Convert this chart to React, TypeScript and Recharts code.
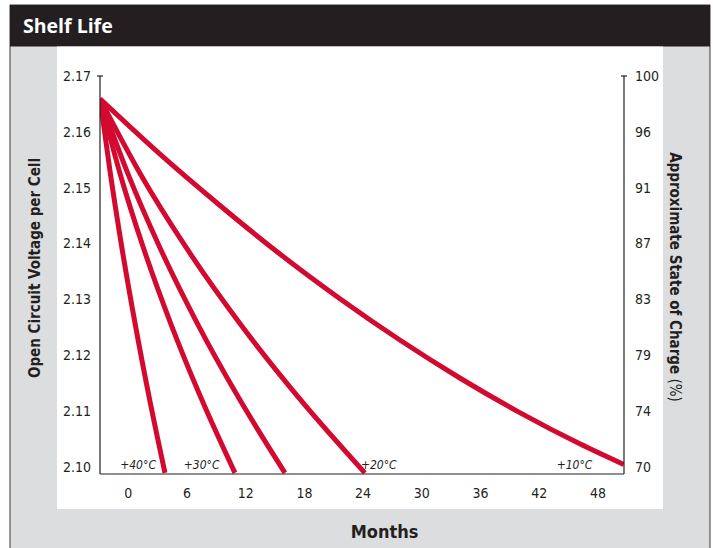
import React from 'react';
import { LineChart, Line, XAxis, YAxis, ReferenceLine, ReferenceDot } from 'recharts';

// ---- data ----
const monthTicks = [0, 6, 12, 18, 24, 30, 36, 42, 48];
const voltageTicks = [2.1, 2.11, 2.12, 2.13, 2.14, 2.15, 2.16, 2.17];
const socLabels = ['70', '74', '79', '83', '87', '91', '96', '100'];

const voltsSteep = [2.1659, 2.1525, 2.1391, 2.1257, 2.1123, 2.0989];
const months40 = [-2.89, -1.83, -0.64, 0.69, 2.15, 3.75];
const months30 = [-2.89, -0.84, 1.57, 4.33, 7.44, 10.9];
const months25 = [-2.89, -0.04, 3.27, 7.05, 11.3, 16.01];
const months20 = [-2.89, 1.22, 5.98, 11.39, 17.46, 24.18];
const months10 = [-2.89, 3.24, 9.37, 15.5, 21.63, 27.75, 33.88, 40.01, 46.14, 50.63];
const volts10 = [2.1659, 2.156, 2.1468, 2.1381, 2.1301, 2.1227, 2.1159, 2.1097, 2.1041, 2.1004];

const tempLabels = ['+40°C', '+30°C', '+20°C', '+10°C'];
const tempLabelMonths = [1.0, 7.5, 25.6, 45.6];
const tempLabelVolt = 2.1;

const X_DOMAIN: [number, number] = [-2.89, 50.66];
const Y_DOMAIN: [number, number] = [2.0987, 2.17];

const toRows = (m: number[], v: number[]) => m.map((month, i) => ({ month, v: v[i] }));
const series = [
  { key: 's40', data: toRows(months40, voltsSteep) },
  { key: 's30', data: toRows(months30, voltsSteep) },
  { key: 's25', data: toRows(months25, voltsSteep) },
  { key: 's20', data: toRows(months20, voltsSteep) },
  { key: 's10', data: toRows(months10, volts10) },
];

const NARROW = "'Liberation Sans Narrow', 'DejaVu Sans Condensed', 'Roboto Condensed', sans-serif";
const INK = '#231f20';
const RED = '#d3092f';
const GRAY = '#dcdddf';

const W = 713;
const H = 548;

export default function App() {
  return (
    <div style={{ position: 'absolute', left: 0, top: 0, width: W, height: H, background: '#fff' }}>
      <svg width={W} height={H} style={{ position: 'absolute', left: 0, top: 0 }}>
        <rect x={10} y={5} width={700} height={H} fill={GRAY} stroke="#3a3a3a" strokeWidth={1} />
        <rect x={10} y={5} width={700} height={41.5} fill={INK} />
        <text x={23} y={33} fill="#fff" fontFamily="'Open Sans', sans-serif" fontWeight={700} fontSize={19.5}>
          Shelf Life
        </text>
        <rect x={57} y={46.5} width={606} height={462.5} fill="#fff" />
        <text
          transform="translate(40,268) rotate(-90)"
          textAnchor="middle"
          fill={INK}
          fontFamily={NARROW}
          fontWeight={700}
          fontSize={15}
        >
          Open Circuit Voltage per Cell
        </text>
        <text
          transform="translate(670,277) rotate(90)"
          textAnchor="middle"
          fill={INK}
          fontFamily={NARROW}
          fontSize={15}
        >
          <tspan fontWeight={700}>Approximate State of Charge</tspan>
          <tspan> (%)</tspan>
        </text>
        <text x={384.5} y={538} textAnchor="middle" fill={INK} fontFamily={NARROW} fontWeight={700} fontSize={18}>
          Months
        </text>
      </svg>
      <div style={{ position: 'absolute', left: 0, top: 0 }}>
        <LineChart width={W} height={H} margin={{ top: 76, right: 39, bottom: 44, left: 40 }}>
          <XAxis
            dataKey="month"
            type="number"
            domain={X_DOMAIN}
            ticks={monthTicks}
            allowDataOverflow
            tickLine={false}
            tickSize={0}
            tickMargin={14}
            height={30}
            axisLine={{ stroke: INK, strokeWidth: 1.2 }}
            tick={{ fill: INK, fontSize: 14, fontFamily: NARROW }}
          />
          <YAxis
            yAxisId="left"
            type="number"
            domain={Y_DOMAIN}
            ticks={voltageTicks}
            allowDataOverflow
            width={60}
            tickLine={false}
            tickSize={0}
            tickMargin={9}
            axisLine={{ stroke: INK, strokeWidth: 1.2 }}
            tickFormatter={(v: number) => v.toFixed(2)}
            tick={{ fill: INK, fontSize: 14, fontFamily: NARROW }}
          />
          <YAxis
            yAxisId="right"
            orientation="right"
            type="number"
            domain={Y_DOMAIN}
            ticks={voltageTicks}
            allowDataOverflow
            width={50}
            tickLine={false}
            tickSize={0}
            tickMargin={11}
            axisLine={{ stroke: INK, strokeWidth: 1.2 }}
            tickFormatter={(v: number) => {
              const i = voltageTicks.findIndex((t) => Math.abs(t - v) < 1e-6);
              return i >= 0 ? socLabels[i] : '';
            }}
            tick={{ fill: INK, fontSize: 14, fontFamily: NARROW, textAnchor: 'start' }}
          />
          <ReferenceLine
            yAxisId="left"
            segment={[{ x: -3.2, y: 2.17 }, { x: -2.58, y: 2.17 }]}
            stroke={INK}
            strokeWidth={1.2}
            ifOverflow="visible"
          />
          <ReferenceLine
            yAxisId="left"
            segment={[{ x: 50.35, y: 2.17 }, { x: 50.97, y: 2.17 }]}
            stroke={INK}
            strokeWidth={1.2}
            ifOverflow="visible"
          />
          {series.map((s) => (
            <Line
              key={s.key}
              yAxisId="left"
              data={s.data}
              dataKey="v"
              type="monotone"
              stroke={RED}
              strokeWidth={5}
              dot={false}
              activeDot={false}
              isAnimationActive={false}
            />
          ))}
          {tempLabels.map((label, i) => (
            <ReferenceDot
              key={label}
              yAxisId="left"
              x={tempLabelMonths[i]}
              y={tempLabelVolt}
              r={0}
              ifOverflow="visible"
              shape={(p: any) => (
                <text
                  x={p.cx}
                  y={p.cy + 2}
                  textAnchor="middle"
                  fill={INK}
                  fontFamily={NARROW}
                  fontStyle="italic"
                  fontSize={12}
                >
                  {label}
                </text>
              )}
            />
          ))}
        </LineChart>
      </div>
    </div>
  );
}
